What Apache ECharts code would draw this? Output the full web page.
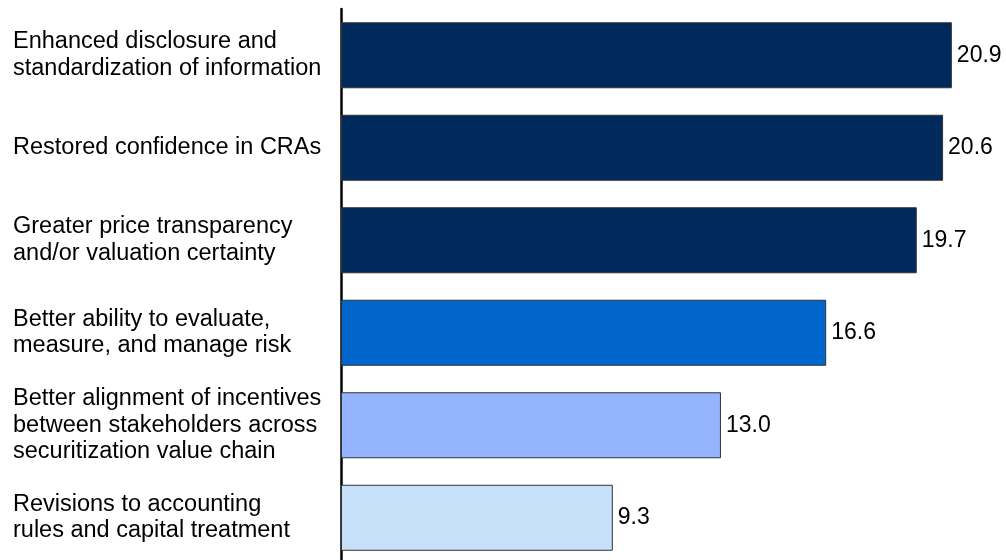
<!DOCTYPE html>
<html>
<head>
<meta charset="utf-8">
<script src="https://cdn.jsdelivr.net/npm/echarts@6/dist/echarts.min.js"></script>
<style>
html,body{margin:0;padding:0;background:#fff;overflow:hidden;}
#chart{width:1006px;height:572px;}
</style>
</head>
<body>
<div id="chart"></div>
<script>
const categories = [
  "Enhanced disclosure and\nstandardization of information",
  "Restored confidence in CRAs",
  "Greater price transparency\nand/or valuation certainty",
  "Better ability to evaluate,\nmeasure, and manage risk",
  "Better alignment of incentives\nbetween stakeholders across\nsecuritization value chain",
  "Revisions to accounting\nrules and capital treatment"
];
const values = [20.9, 20.6, 19.7, 16.6, 13.0, 9.3];
const barColors = ["#002A5C", "#002A5C", "#002A5C", "#0066CC", "#94B4FF", "#C6E0FA"];

const chart = echarts.init(document.getElementById('chart'), null, {renderer: 'canvas'});
chart.setOption({
  animation: false,
  backgroundColor: '#ffffff',
  grid: {left: 341, top: 9, width: 643, height: 555, containLabel: false},
  xAxis: {
    type: 'value', min: 0, max: 22,
    show: false
  },
  yAxis: {
    type: 'category',
    inverse: true,
    data: categories,
    axisLine: {show: true, lineStyle: {color: '#000', width: 2.5}},
    axisTick: {show: false},
    axisLabel: {
      align: 'left',
      margin: 328,
      color: '#000',
      fontFamily: '"Liberation Sans", Arial, sans-serif',
      fontSize: 23.5,
      lineHeight: 26.5,
      padding: [6, 0, 0, 0]
    }
  },
  series: [{
    type: 'bar',
    data: values.map((v, i) => ({value: v, itemStyle: {color: barColors[i]}})),
    barWidth: 66,
    itemStyle: {borderColor: '#333', borderWidth: 1},
    label: {
      show: true,
      position: 'right',
      distance: 5,
      color: '#000',
      fontFamily: '"Liberation Sans", Arial, sans-serif',
      fontSize: 23,
      padding: [3, 0, 0, 0],
      formatter: p => p.value.toFixed(1)
    }
  }]
});
</script>
</body>
</html>
